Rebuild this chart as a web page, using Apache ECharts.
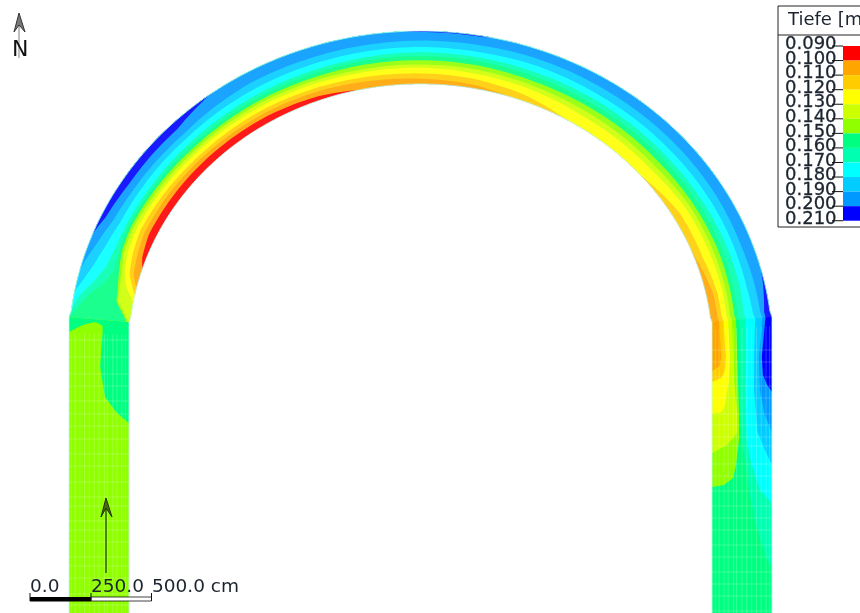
<!DOCTYPE html>
<html><head><meta charset="utf-8">
<style>html,body{margin:0;padding:0;background:#fff}#c{width:860px;height:613px}</style>
<script src="https://cdn.jsdelivr.net/npm/echarts@6/dist/echarts.min.js"></script>
</head><body><div id="c"></div>
<script>
const depthLabels=["0.090","0.100","0.110","0.120","0.130","0.140","0.150","0.160","0.170","0.180","0.190","0.200","0.210"];
const bandColors=["#ff0000","#ffa500","#ffcc00","#ffff00","#ccff00","#90ff00","#00ff80","#00ffb0","#00ffff","#00ccff","#0099ff","#0000ff"];
const arcAngles=[6,10,13,16,20,25,32,45,60,70,78,90,100,110,122,139,150,160,168,174];
const arcB1 =[-.1,-.1,-.1,-.05,.07,.13,.13,.13,.12,.08,0,-.1,-.1,-.2,-.2,-.2,-.2,-.2,-.2,-.2];
const arcB2 =[-.1,-.1,-.02,.11,.16,.21,.21,.2,.19,.17,.14,.1,.07,-.02,-.1,-.1,-.05,.02,.12,.12];
const arcB3 =[-.1,-.1,.05,.18,.24,.29,.28,.26,.26,.24,.22,.2,.18,.12,-.02,0,.13,.13,.19,.19];
const arcB4 =[-.1,-.02,.16,.26,.33,.36,.35,.33,.33,.32,.31,.31,.28,.25,.2,.2,.26,.27,.28,.27];
const arcB5 =[.02,.25,.28,.31,.39,.42,.4,.38,.39,.38,.37,.37,.36,.33,.3,.29,.34,.34,.34,.33];
const arcB6 =[.05,.28,.31,.36,.43,.46,.45,.43,.44,.44,.45,.45,.44,.41,.4,.39,.41,.42,.41,.4];
const arcB7 =[1.0,.78,.55,.44,.47,.5,.49,.48,.5,.51,.52,.53,.52,.5,.48,.48,.49,.49,.47,.45];
const arcB8 =[1.05,.9,.72,.6,.55,.55,.54,.54,.56,.57,.58,.6,.59,.58,.57,.56,.57,.58,.58,.56];
const arcB9 =[1.2,1.02,.9,.8,.72,.66,.65,.64,.67,.68,.69,.7,.69,.7,.68,.68,.69,.69,.69,.72];
const arcB10=[1.3,1.2,1.02,.97,.87,.78,.75,.73,.8,.8,.81,.82,.82,.83,.82,.82,.82,.81,.83,.84];
const arcB11=[1.4,1.3,1.3,1.2,1.03,.92,.87,.87,1.1,1.1,1.05,.98,.98,1.1,1.1,1.1,1.1,1.05,.97,.89];
const legB1 =[[320,-.2],[650,-.2]];
const legB2 =[[320,.12],[357,.15],[366,.13],[372,-.02],[650,-.2]];
const legB3 =[[320,.19],[357,.23],[372,.21],[378,.15],[382,0],[650,-.2]];
const legB4 =[[320,.27],[357,.3],[382,.28],[395,.24],[405,.22],[412,.16],[414,0],[650,-.2]];
const legB5 =[[320,.33],[357,.36],[382,.37],[413,.42],[433,.42],[445,.25],[453,0],[650,-.2]];
const legB6 =[[320,.4],[357,.42],[413,.45],[440,.45],[465,.40],[478,.35],[485,.2],[487,0],[650,-.2]];
const legB7 =[[320,.45],[357,.47],[413,.47],[440,.5],[465,.56],[490,.62],[523,.72],[557,.9],[568,1],[650,1.2]];
const legB8 =[[320,.56],[357,.57],[390,.55],[413,.56],[440,.58],[465,.66],[490,.8],[503,1],[650,1.3]];
const legB9 =[[320,.72],[357,.7],[390,.7],[432,.76],[450,.88],[465,1],[650,1.4]];
const legB10=[[320,.84],[357,.78],[392,.8],[415,.88],[432,1],[650,1.5]];
const legB11=[[320,.89],[357,.83],[375,.85],[385,.92],[392,1],[650,1.6]];
const limePatch=[[323,.54,.6],[326,.44,.76],[330,.44,.9],[333,.44,1],[347,.46,1],[367,.48,1],[397,.4,1],[413,.2,1],[423,0,1],[650,0,1]];
const meshAcross=[.06,.12,.2,.27,.36,.41,.5,.58,.66,.74,.82,.9,.96];
const meshAlongLeft=[-330,-318,-300,-291,-279,-268,-252,-240,-231,-216,-204,-195,-180,-171,-156,-140,-128,-113,-100,-88,-75,-60,-48,-31,-14];
const meshAlongRight=[204,216,231,240,252,268,279,291,300,318,330,345,360,372,384,399,411,426,438,450,465,480,495];

const arcRows=[arcB1,arcB2,arcB3,arcB4,arcB5,arcB6,arcB7,arcB8,arcB9,arcB10,arcB11];
const legRows=[legB1,legB2,legB3,legB4,legB5,legB6,legB7,legB8,legB9,legB10,legB11];
const lerp=(a,b,t)=>a+(b-a)*t, clamp=f=>Math.max(0,Math.min(1,f));
const CX=420.5,CY=350,OA=352,OB=319,IA=292,IB=266;
function place(s,f){
  if(s<=6||s>=174){
    const d=s<=6?6-s:s-174, y=320+d+lerp(2,-3,f)*Math.max(0,1-d/20);
    return s<=6?[lerp(129,69,f),y]:[lerp(712,772,f),y];
  }
  const t=s*Math.PI/180,c=Math.cos(t),n=Math.sin(t);
  return [lerp(CX-IA*c,CX-OA*c,f), lerp(CY-IB*n,CY-OB*n,f)];
}
function knots(k){
  const a=arcAngles.map((th,i)=>[th,arcRows[k][i]]);
  return a.concat(legRows[k].slice(1).map(p=>[174+p[0]-320,p[1]]));
}
function at(kn,s){
  for(let i=1;i<kn.length;i++) if(s<=kn[i][0]){const t=(s-kn[i-1][0])/(kn[i][0]-kn[i-1][0]);return lerp(kn[i-1][1],kn[i][1],t);}
  return kn[kn.length-1][1];
}
const sweep=[];for(let s=6;s<=500;s+=1)sweep.push(s);
const polys=[];
for(let k=0;k<bandColors.length;k++){
  const kn=k>0?knots(k-1):null,low=[],top=[];
  sweep.forEach(s=>{low.push(place(s,kn?clamp(at(kn,s)):0));top.push(place(s,1));});
  polys.push({c:bandColors[k],p:low.concat(top.reverse())});
}
const y2s=y=>6-(y-320);
{const l=[],r=[];for(let s=6;s>=y2s(650);s-=2){l.push(place(s,0));r.push(place(s,1));}
 polys.push({c:bandColors[6],p:l.concat(r.reverse())});}
{const a=limePatch.map(r=>place(y2s(r[0]),r[1])),b=limePatch.map(r=>place(y2s(r[0]),r[2])).reverse();
 polys.push({c:bandColors[5],p:a.concat(b)});}
const edgeL=[],edgeR=[];
for(let s=-330;s<=500;s+=1){edgeL.push(place(s,0));edgeR.push(place(s,1));}
{const l=[],r=[];for(let s=6;s<=174;s+=1){l.push(place(s,0));r.push(place(s,1));}
 polys.push({c:'rgba(255,255,255,.1)',p:l.concat(r.reverse())});}
const meshLines=[];
meshAcross.forEach(f=>{
  const a=[],b=[];
  for(let s=-330;s<=-8;s+=2)a.push(place(s,f));
  for(let s=182;s<=500;s+=2)b.push(place(s,f));
  meshLines.push(a,b);
});
meshAlongLeft.concat(meshAlongRight).forEach(s=>meshLines.push([place(s,0),place(s,1)]));

const chart=echarts.init(document.getElementById('c'),null,{renderer:'canvas'});
const tx='#1c2430';
const g=[];
const LX=843,LY0=46,LH=14.56;
g.push({type:'rect',shape:{x:778,y:6,width:90,height:221},style:{fill:'#fff',stroke:'#222',lineWidth:1},z:5});
g.push({type:'line',shape:{x1:778,y1:35,x2:860,y2:35},style:{stroke:'#222',lineWidth:1},z:6});
g.push({type:'text',style:{text:'Tiefe [m]',x:788,y:20,font:'18px "DejaVu Sans"',fill:tx,verticalAlign:'middle'},z:6});
bandColors.forEach((c,i)=>g.push({type:'rect',shape:{x:LX,y:LY0+i*LH,width:17,height:LH},style:{fill:c},z:6}));
depthLabels.forEach((t,i)=>{
  g.push({type:'text',style:{text:t,x:785,y:LY0+i*LH-1.5,font:'18px "DejaVu Sans"',fill:tx,stroke:tx,lineWidth:.3,verticalAlign:'middle'},z:7});
  g.push({type:'line',shape:{x1:832,y1:LY0+i*LH,x2:843,y2:LY0+i*LH},style:{stroke:'#111',lineWidth:1},z:7});
});
g.push({type:'line',shape:{x1:19,y1:20,x2:19,y2:58},style:{stroke:'#aaa',lineWidth:1.5},z:7});
g.push({type:'polyline',shape:{points:[[14,32],[19,13],[25,32],[19,25],[14,32]]},style:{stroke:'#333',fill:'#777',lineWidth:1},z:7});
g.push({type:'text',style:{text:'N',x:12,y:50,font:'22px "DejaVu Sans"',fill:'#111',verticalAlign:'middle'},z:8});
g.push({type:'line',shape:{x1:106,y1:573,x2:106,y2:505},style:{stroke:'#1f3300',lineWidth:1.2},z:7});
g.push({type:'polyline',shape:{points:[[101,517],[106,498],[112,517],[106,508],[101,517]]},style:{stroke:'#1f3300',fill:'#4d6a10',lineWidth:1},z:7});
g.push({type:'rect',shape:{x:30,y:597,width:61,height:4.5},style:{fill:'#000'},z:7});
g.push({type:'rect',shape:{x:91,y:597,width:60.5,height:4},style:{fill:'#fff',stroke:'#111',lineWidth:.8},z:7});
g.push({type:'line',shape:{x1:30,y1:593,x2:30,y2:601},style:{stroke:'#111',lineWidth:1},z:7});
g.push({type:'line',shape:{x1:91,y1:593,x2:91,y2:601},style:{stroke:'#111',lineWidth:1},z:7});
g.push({type:'line',shape:{x1:151.5,y1:593,x2:151.5,y2:601},style:{stroke:'#111',lineWidth:1},z:7});
[['0.0',30],['250.0',91],['500.0 cm',152]].forEach(r=>g.push({type:'text',style:{text:r[0],x:r[1],y:587.5,font:'18.5px "DejaVu Sans"',fill:tx,verticalAlign:'middle'},z:8}));

chart.setOption({
  animation:false,
  grid:{left:0,right:0,top:0,bottom:0},
  xAxis:{type:'value',min:0,max:860,show:false},
  yAxis:{type:'value',min:0,max:613,inverse:true,show:false},
  graphic:{elements:g},
  series:[
   {type:'custom',silent:true,clip:true,z:1,data:polys.map((p,i)=>[i]),
    renderItem:(ctx,api)=>{const q=polys[api.value(0)];
      return {type:'polygon',shape:{points:q.p.map(pt=>api.coord(pt))},style:{fill:q.c,stroke:null}};}},
   {type:'custom',silent:true,clip:true,z:2,data:meshLines.map((p,i)=>[i]),
    renderItem:(ctx,api)=>({type:'polyline',shape:{points:meshLines[api.value(0)].map(pt=>api.coord(pt))},style:{stroke:'rgba(255,255,255,.2)',lineWidth:1,fill:null}})},
   {type:'custom',silent:true,clip:true,z:3,data:[[0],[1]],
    renderItem:(ctx,api)=>{const e=api.value(0)?edgeR:edgeL;
      return {type:'polyline',shape:{points:e.map(pt=>api.coord(pt))},style:{stroke:'#b8fff0',lineWidth:.8,fill:null}};}}
  ]
});
</script></body></html>
